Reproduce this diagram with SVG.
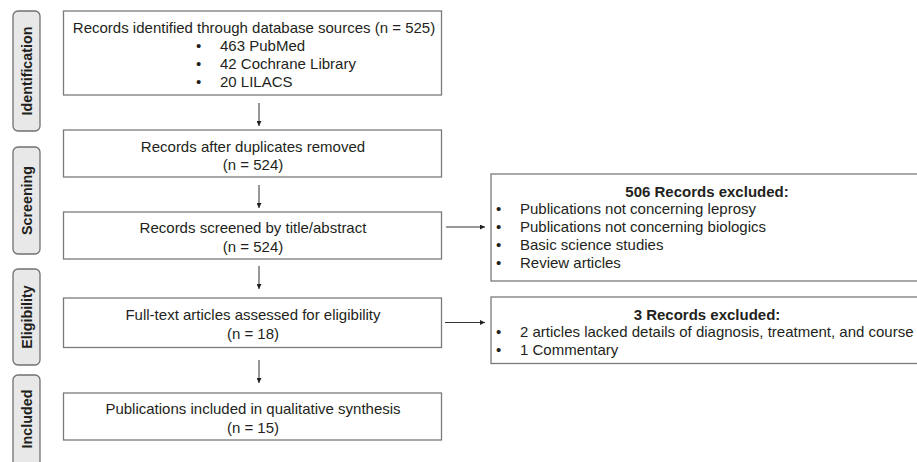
<svg xmlns="http://www.w3.org/2000/svg" width="917" height="462" viewBox="0 0 917 462">
<style>
text{font-family:"Liberation Sans",Arial,sans-serif;fill:#231f20;font-size:15px}
.c{text-anchor:middle}
.lbl{font-weight:bold;font-size:14.3px;text-anchor:middle}
.h{font-weight:bold;text-anchor:middle}
.box{fill:#fff;stroke:#7a7a7a;stroke-width:1.3}
.stage{fill:#e8e8e8;stroke:#707070;stroke-width:1.3}
.conn{stroke:#333;stroke-width:1;fill:none}
</style>
<defs>
<marker id="ah" viewBox="0 0 8 8" refX="8" refY="4" markerWidth="5" markerHeight="5" orient="auto" markerUnits="userSpaceOnUse">
<path d="M0,0 L8,4 L0,8 Z" fill="#231f20"/>
</marker>
</defs>
<rect width="917" height="462" fill="#fff"/>
<g id="stage-identification">
<rect class="stage" x="13" y="11" width="27" height="120" rx="5"/>
<text class="lbl" transform="translate(31.5,71) rotate(-90)">Identification</text>
</g>
<g id="stage-screening">
<rect class="stage" x="13" y="147" width="27" height="107" rx="5"/>
<text class="lbl" transform="translate(31.5,200.5) rotate(-90)">Screening</text>
</g>
<g id="stage-eligibility">
<rect class="stage" x="13" y="269" width="27" height="96" rx="5"/>
<text class="lbl" transform="translate(31.5,317) rotate(-90)">Eligibility</text>
</g>
<g id="stage-included">
<rect class="stage" x="13" y="375" width="27" height="95" rx="5"/>
<text class="lbl" transform="translate(31.5,419) rotate(-90)">Included</text>
</g>
<g id="identified">
<rect class="box" x="63.5" y="11" width="378" height="84"/>
<text class="c" x="254" y="33">Records identified through database sources (n = 525)</text>
<text x="196" y="50.5">•</text><text x="220" y="50.5">463 PubMed</text>
<text x="196" y="68.5">•</text><text x="220" y="68.5">42 Cochrane Library</text>
<text x="196" y="86.5">•</text><text x="220" y="86.5">20 LILACS</text>
</g>
<g id="deduplicated">
<rect class="box" x="63.5" y="130" width="378" height="47"/>
<text class="c" x="253" y="151.5">Records after duplicates removed</text>
<text class="c" x="253" y="170">(n = 524)</text>
</g>
<g id="screened">
<rect class="box" x="63.5" y="212" width="378" height="47"/>
<text class="c" x="253" y="233">Records screened by title/abstract</text>
<text class="c" x="253" y="252">(n = 524)</text>
</g>
<g id="fulltext">
<rect class="box" x="63.5" y="298" width="378" height="49.5"/>
<text class="c" x="253" y="320">Full-text articles assessed for eligibility</text>
<text class="c" x="253" y="338.5">(n = 18)</text>
</g>
<g id="included">
<rect class="box" x="63.5" y="393" width="378" height="47"/>
<text class="c" x="253" y="414">Publications included in qualitative synthesis</text>
<text class="c" x="253" y="432.5">(n = 15)</text>
</g>
<g id="excluded-screening">
<rect class="box" x="491" y="174" width="440" height="107"/>
<text class="h" x="707" y="197">506 Records excluded:</text>
<text x="496" y="214">•</text><text x="520" y="214">Publications not concerning leprosy</text>
<text x="496" y="232">•</text><text x="520" y="232">Publications not concerning biologics</text>
<text x="496" y="250">•</text><text x="520" y="250">Basic science studies</text>
<text x="496" y="268">•</text><text x="520" y="268">Review articles</text>
</g>
<g id="excluded-eligibility">
<rect class="box" x="491" y="297" width="440" height="66.5"/>
<text class="h" x="707" y="319.5">3 Records excluded:</text>
<text x="496" y="337">•</text><text x="520" y="337">2 articles lacked details of diagnosis, treatment, and course</text>
<text x="496" y="355">•</text><text x="520" y="355">1 Commentary</text>
</g>
<g id="connectors">
<line class="conn" x1="259" y1="103" x2="259" y2="126" marker-end="url(#ah)"/>
<line class="conn" x1="259" y1="185" x2="259" y2="208" marker-end="url(#ah)"/>
<line class="conn" x1="259" y1="266" x2="259" y2="289" marker-end="url(#ah)"/>
<line class="conn" x1="259" y1="360" x2="259" y2="383" marker-end="url(#ah)"/>
<line class="conn" x1="446" y1="227" x2="485" y2="227" marker-end="url(#ah)"/>
<line class="conn" x1="445" y1="322.5" x2="485" y2="322.5" marker-end="url(#ah)"/>
</g>
</svg>
